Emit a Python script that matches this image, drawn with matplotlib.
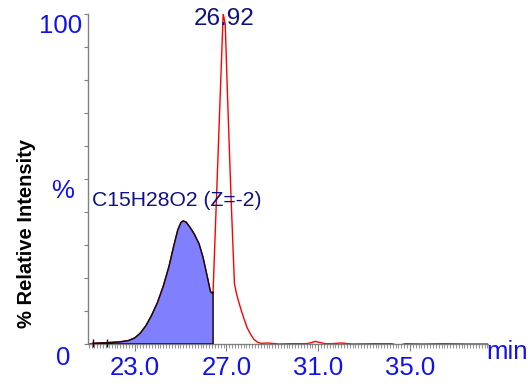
#!/usr/bin/env python3
import matplotlib
matplotlib.use('Agg')
import matplotlib.pyplot as plt
from matplotlib.ticker import MultipleLocator, FixedLocator
import numpy as np

plt.rcParams['font.family'] = ['Liberation Sans', 'DejaVu Sans']

# chromatogram trace (retention time in min, % relative intensity)
time = [21.0, 21.19, 21.80, 22.30, 22.72, 23.00, 23.24, 23.50, 23.75, 24.00,
        24.25, 24.50, 24.70, 24.88, 25.02, 25.12, 25.25, 25.42, 25.60, 25.81,
        25.98, 26.10, 26.20, 26.30, 26.36, 26.42,
        26.86, 26.95, 27.05, 27.20, 27.35, 27.43, 27.52, 27.63, 27.75, 27.90,
        28.05, 28.20, 28.35, 28.50, 28.8, 29.3, 29.8, 30.5, 30.7, 30.87, 31.05,
        31.3, 31.6, 32.0, 32.5, 33.5, 34.2, 34.5, 34.8, 35.5, 36.5, 37.5, 38.4]
intensity = [0.0, 0.2, 0.4, 0.6, 1.0, 1.8, 3.2, 5.6, 8.8, 12.6,
             17.5, 23.5, 29.5, 34.5, 36.8, 37.3, 36.9, 35.3, 33.3, 30.3,
             26.3, 22.5, 19.3, 16.0, 15.4, 15.8,
             100.0, 97.0, 75.0, 45.0, 18.4, 15.6, 13.2, 10.6, 8.0, 5.0,
             3.0, 1.4, 0.6, 0.2, 0.3, 0.0, 0.1, 0.1, 0.4, 0.8, 0.5,
             0.1, 0.1, 0.3, 0.0, 0.1, 0.1, -0.4, 0.1, 0.0, 0.1, 0.0, 0.0]

# integrated region (indexes into the trace) and its boundary marks
fill_start, fill_end = 1, 25
marks = [21.2, 21.8]

peak_rt = 26.92
peak_label = '26.92'
compound = 'C15H28O2 (Z=-2)'
xticks = [23.0, 27.0, 31.0, 35.0]

blue = '#1010f0'
navy = '#101080'
gray = '#808080'

fig = plt.figure(figsize=(5.28, 3.88), dpi=100)
ax = fig.add_axes([88/528, 1-344/388, 400/528, 330/388])

t = np.array(time)
y = np.array(intensity)

ax.plot(t, y, color='red', lw=1.0, zorder=2)

# filled peak area with dark outline
ft = list(t[fill_start:fill_end+1]) + [t[fill_end], t[fill_start]]
fy = list(y[fill_start:fill_end+1]) + [0, 0]
ax.fill(ft, fy, facecolor='#8080ff', edgecolor='#1a0a0a', lw=1.1, zorder=3)
ax.vlines(marks, -0.8, 1.5, color='#1a0a0a', lw=1.0, zorder=4, clip_on=False)

ax.set_xlim(20.97, 38.4)
ax.set_ylim(0, 100)

for s in ['top', 'right']:
    ax.spines[s].set_visible(False)
for s in ['left', 'bottom']:
    ax.spines[s].set_color(gray)
    ax.spines[s].set_linewidth(1.0)

ax.yaxis.set_major_locator(MultipleLocator(10))
ax.tick_params(axis='y', direction='out', length=3, color=gray, labelleft=False)

ax.xaxis.set_major_locator(FixedLocator(xticks))
ax.xaxis.set_minor_locator(MultipleLocator(0.125))
ax.set_xticklabels(['%.1f' % v for v in xticks])
ax.tick_params(axis='x', which='major', direction='out', length=5, width=0.8,
               color=gray, labelsize=18.5, labelcolor=blue, pad=3.5)
ax.tick_params(axis='x', which='minor', direction='out', length=3, width=0.6,
               color=gray)

ax.text(peak_rt, 98.5, peak_label, ha='center', va='center', fontsize=17.5,
        color=navy, zorder=5)
ax.text(21.15, 43.6, compound, ha='left', va='center', fontsize=15.2,
        color=navy, zorder=5)

fig.text(82/528, 1-26/388, '100', ha='right', va='center', fontsize=18.5, color=blue)
fig.text(63/528, 1-191/388, '%', ha='center', va='center', fontsize=18.5, color=blue)
fig.text(63.5/528, 1-358/388, '0', ha='center', va='center', fontsize=18.5, color=blue)
fig.text(486/528, 1-352/388, 'min', ha='left', va='center', fontsize=18.5, color=blue)
fig.text(27/528, 1-233/388, '% Relative Intensity', rotation=90, ha='center',
         va='center', fontsize=14.5, fontweight='bold', color='black')

fig.savefig('out.png', dpi=100)
